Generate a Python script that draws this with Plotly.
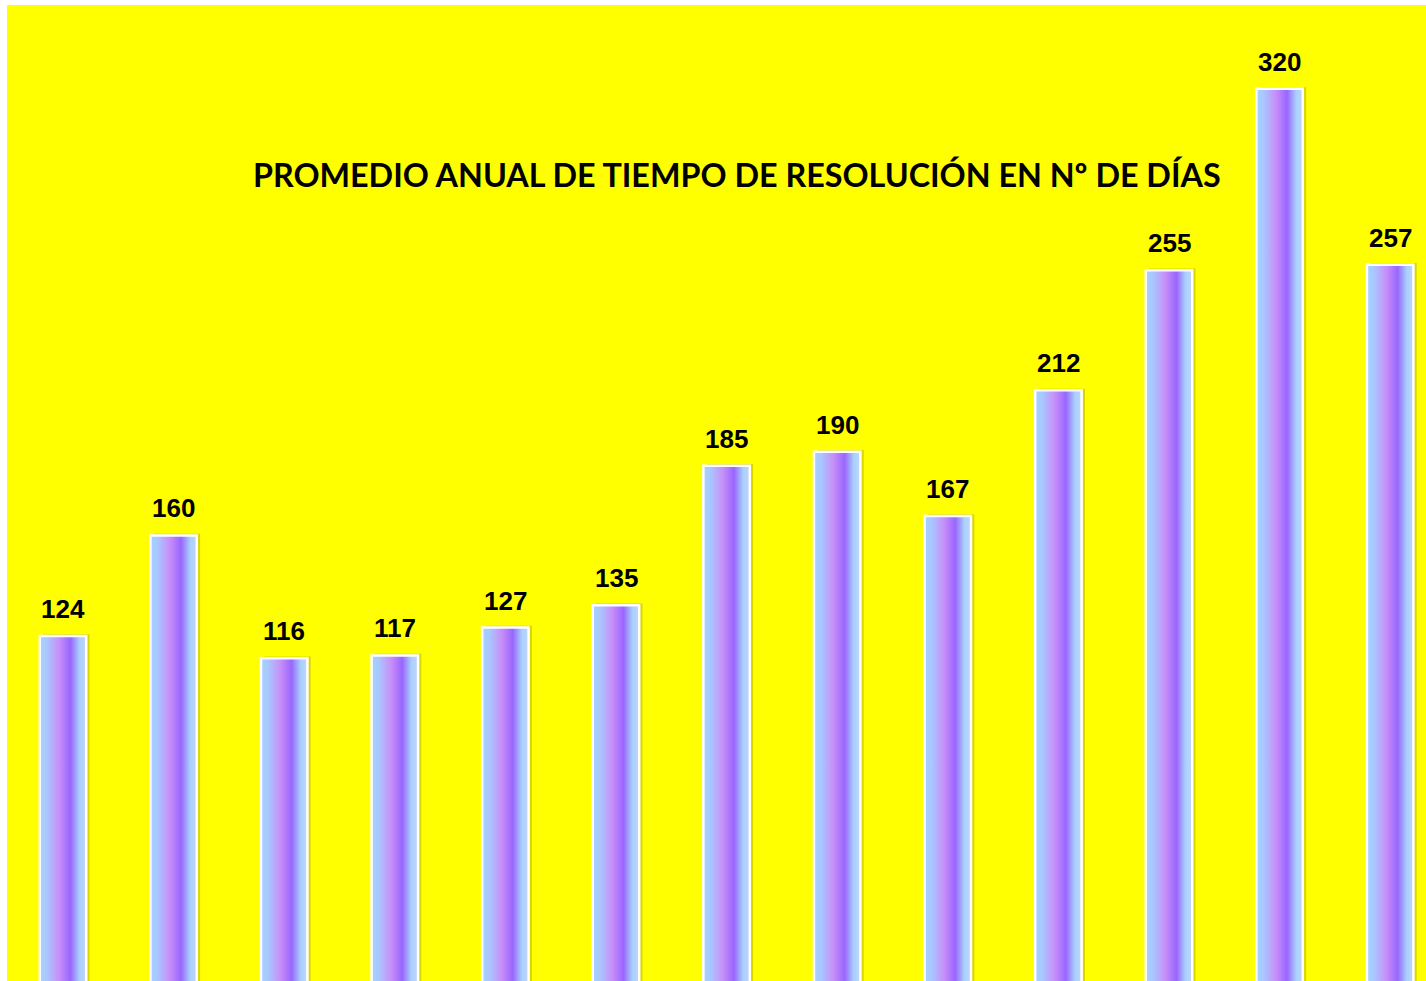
import plotly.graph_objects as go

title_text = "PROMEDIO ANUAL DE TIEMPO DE RESOLUCIÓN EN Nº DE DÍAS"
categories = list(range(13))
values = [124, 160, 116, 117, 127, 135, 185, 190, 167, 212, 255, 320, 257]

bar_w = 0.42
gradient = [
    [0.0, "#a6d2ff"],
    [0.15, "#a8c8ff"],
    [0.42, "#c88ef8"],
    [0.66, "#9966ff"],
    [0.86, "#a8d2ff"],
    [1.0, "#c4d2f8"],
]

fig = go.Figure()

# shadows
for c, v in zip(categories, values):
    dx = 0.03
    x0, x1 = c - bar_w / 2 + dx, c + bar_w / 2 + dx
    fig.add_trace(go.Scatter(
        x=[x0, x0, x1, x1, x0], y=[-5, v + 0.6, v + 0.6, -5, -5],
        mode="lines", fill="toself", line=dict(width=0),
        fillcolor="rgba(150,140,0,0.35)", hoverinfo="skip", showlegend=False,
    ))

# bars
for c, v in zip(categories, values):
    x0, x1 = c - bar_w / 2, c + bar_w / 2
    fig.add_trace(go.Scatter(
        x=[x0, x0, x1, x1, x0], y=[-5, v, v, -5, -5],
        mode="lines", fill="toself",
        line=dict(color="white", width=2.5),
        fillgradient=dict(type="horizontal", colorscale=gradient),
        hoverinfo="skip", showlegend=False,
    ))

for c, v in zip(categories, values):
    fig.add_annotation(
        x=c, y=v, text=f"<b>{v}</b>", showarrow=False,
        yanchor="middle", yshift=27,
        font=dict(family="Liberation Sans, Arial", size=26, color="black"),
    )

fig.add_annotation(
    xref="paper", yref="paper", x=0.5144, y=0.8262,
    text=f"<b>{title_text}</b>", showarrow=False,
    xanchor="center", yanchor="middle",
    font=dict(family="Lato, Carlito, Calibri", size=32.3, color="black"),
)

fig.update_layout(
    width=1426, height=981,
    margin=dict(l=7, r=0, t=5, b=0),
    paper_bgcolor="white", plot_bgcolor="#ffff00",
    xaxis=dict(range=[-0.5063, 12.3237], visible=False, fixedrange=True),
    yaxis=dict(range=[0.36, 350.05], visible=False, fixedrange=True),
    showlegend=False,
)

fig.write_html(
    "out.html",
    config={"displayModeBar": False, "staticPlot": True},
    post_script="document.body.style.margin='0';document.documentElement.style.overflow='hidden';",
)
